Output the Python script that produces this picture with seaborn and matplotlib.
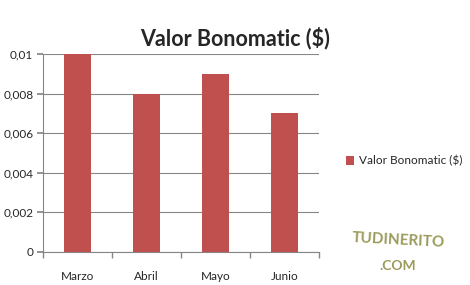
import matplotlib
matplotlib.use("Agg")
import matplotlib.pyplot as plt
import seaborn as sns
import pandas as pd
from matplotlib.ticker import FuncFormatter, MultipleLocator

categories = ["Marzo", "Abril", "Mayo", "Junio"]
values = [0.01, 0.008, 0.009, 0.007]
series_name = "Valor Bonomatic ($)"

df = pd.DataFrame({"mes": categories, "valor": values, "serie": series_name})

sns.set_theme(style="white")
plt.rcParams["font.family"] = ["Lato", "DejaVu Sans"]

fig = plt.figure(figsize=(4.7, 2.85), dpi=100)
ax = fig.add_axes([43/470, 1-252/285, (319-43)/470, (252-54)/285])

sns.barplot(data=df, x="mes", y="valor", hue="serie", palette=["#C0504D"],
            width=0.4, saturation=1, linewidth=0, ax=ax, legend=True)

ax.set_ylim(0, 0.01)
ax.set_xlim(-0.5, 3.5)
ax.yaxis.set_major_locator(MultipleLocator(0.002))
def fmt(v, pos):
    if abs(v) < 1e-12:
        return "0"
    s = ("%.3f" % v).rstrip("0")
    return s.replace(".", ",")
ax.yaxis.set_major_formatter(FuncFormatter(fmt))
ax.grid(axis="y", color="#868686", linewidth=0.8)
ax.set_axisbelow(True)
ax.set_xlabel("")
ax.set_ylabel("")
for s in ["top", "right"]:
    ax.spines[s].set_visible(False)
for s in ["left", "bottom"]:
    ax.spines[s].set_color("#868686")
    ax.spines[s].set_linewidth(0.8)
ax.tick_params(axis="y", left=True, length=4, color="#868686", labelsize=8.5, pad=3)
ax.set_xticks([0, 1, 2, 3])
ax.set_xticks([-0.5, 0.5, 1.5, 2.5, 3.5], minor=True)
ax.tick_params(axis="x", which="major", bottom=False, labelsize=8.5, pad=8)
ax.tick_params(axis="x", which="minor", bottom=True, length=4, color="#868686")

fig.suptitle(series_name, x=0.5, y=1-38/285, va="center", fontsize=15.5, fontweight="bold")

leg = ax.get_legend()
if leg is not None:
    leg.remove()
fig.legend(*ax.get_legend_handles_labels(), loc="center left",
           bbox_to_anchor=(335/470, 1-161/285), frameon=False, fontsize=8.5,
           handlelength=0.7, handleheight=0.7, handletextpad=0.4)

fig.text(398/470, 1-240/285, "TUDINERITO", ha="center", va="center", fontsize=11,
         fontweight="bold", color="#9A9A5A", rotation=-3)
fig.text(398/470, 1-266/285, ".COM", ha="center", va="center", fontsize=10,
         fontweight="bold", color="#9A9A5A")

fig.savefig("out.png", dpi=100)
